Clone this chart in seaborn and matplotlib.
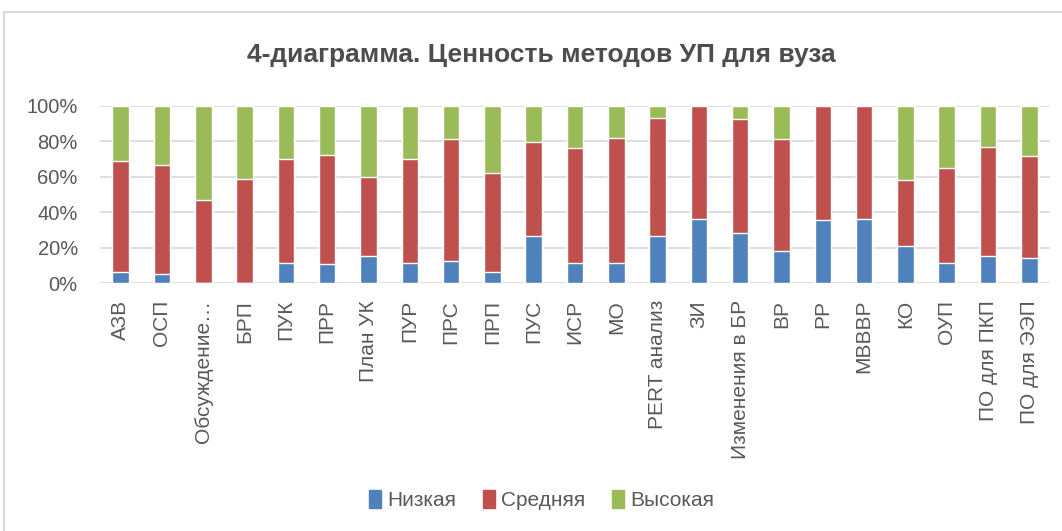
import numpy as np
import pandas as pd
import seaborn as sns
import matplotlib.pyplot as plt
from matplotlib.patches import Patch, Rectangle

# Categories (methods) and shares of ratings, in percent
methods = ['АЗВ', 'ОСП', 'Обсуждение…', 'БРП', 'ПУК', 'ПРР', 'План УК', 'ПУР', 'ПРС', 'ПРП',
           'ПУС', 'ИСР', 'МО', 'PERT анализ', 'ЗИ', 'Изменения в БР', 'ВР', 'РР', 'МВВВР',
           'КО', 'ОУП', 'ПО для ПКП', 'ПО для ЭЭП']
low = [6.2, 5.4, 0.0, 0.0, 11.6, 10.9, 15.2, 11.6, 12.4, 6.2, 26.5, 11.6, 11.6, 26.5,
       36.2, 28.5, 18.0, 35.8, 36.2, 20.8, 11.6, 15.2, 14.4]
mid = [62.5, 61.0, 46.7, 58.7, 58.6, 61.1, 44.5, 58.6, 68.7, 56.1, 53.2, 64.6, 70.4, 66.7,
       63.8, 64.0, 63.4, 64.2, 63.8, 37.2, 53.1, 61.5, 57.1]
high = [31.3, 33.6, 53.3, 41.3, 29.8, 28.0, 40.3, 29.8, 18.9, 37.7, 20.3, 23.8, 18.0, 6.8,
        0.0, 7.5, 18.6, 0.0, 0.0, 42.0, 35.3, 23.3, 28.5]
series_names = ['Низкая', 'Средняя', 'Высокая']
colors = ['#4F81BD', '#C0504D', '#9BBB59']

df = pd.DataFrame({'method': methods, 'low': low, 'mid': mid, 'high': high})
df['top_mid'] = df['low'] + df['mid']
df['top_high'] = df['top_mid'] + df['high']

sns.set_style('white')
plt.rcParams['font.family'] = ['Liberation Sans', 'DejaVu Sans']

fig = plt.figure(figsize=(10.62, 5.31), dpi=100)
ax = fig.add_axes([0.0942, 0.4665, 0.8945, 0.3345])

# stacked bars: draw cumulative tops from back to front
sns.barplot(data=df, x='method', y='top_high', color=colors[2], width=0.4,
            saturation=1, ax=ax, zorder=3)
sns.barplot(data=df, x='method', y='top_mid', color=colors[1], width=0.4,
            saturation=1, ax=ax, zorder=3)
sns.barplot(data=df, x='method', y='low', color=colors[0], width=0.4,
            saturation=1, ax=ax, zorder=3)

ax.set_ylim(0, 100)
ax.set_xlim(-0.5, len(methods) - 0.5)
ax.set_yticks(np.arange(0, 101, 20))
ax.set_yticklabels([f'{v}%' for v in range(0, 101, 20)])
ax.yaxis.grid(True, color='#D9D9D9', lw=1.2, zorder=0)
ax.set_axisbelow(True)
for s in ax.spines.values():
    s.set_visible(False)
ax.set_xlabel('')
ax.set_ylabel('')
ax.tick_params(axis='both', length=0, colors='#595959')
ax.tick_params(axis='x', pad=12, labelsize=15)
ax.tick_params(axis='y', pad=16, labelsize=14.5)
plt.setp(ax.get_xticklabels(), rotation=90)

fig.text(0.51, 0.896, '4-диаграмма. Ценность методов УП для вуза', ha='center', va='center',
         fontsize=19, fontweight='bold', color='#4D4D4D')

handles = [Patch(color=c, label=n) for c, n in zip(colors, series_names)]
fig.legend(handles=handles, loc='center', bbox_to_anchor=(0.51, 0.058), ncol=3,
           frameon=False, fontsize=15, handlelength=0.55, handleheight=0.9,
           handletextpad=0.3, columnspacing=1.3, labelcolor='#595959')

# chart border (only left and top visible in the crop)
fig.add_artist(Rectangle((0.004, -0.1), 1.2, 1.077, transform=fig.transFigure,
                         fill=False, ec='#D9D9D9', lw=1.5))

fig.savefig('out.png', dpi=100)
